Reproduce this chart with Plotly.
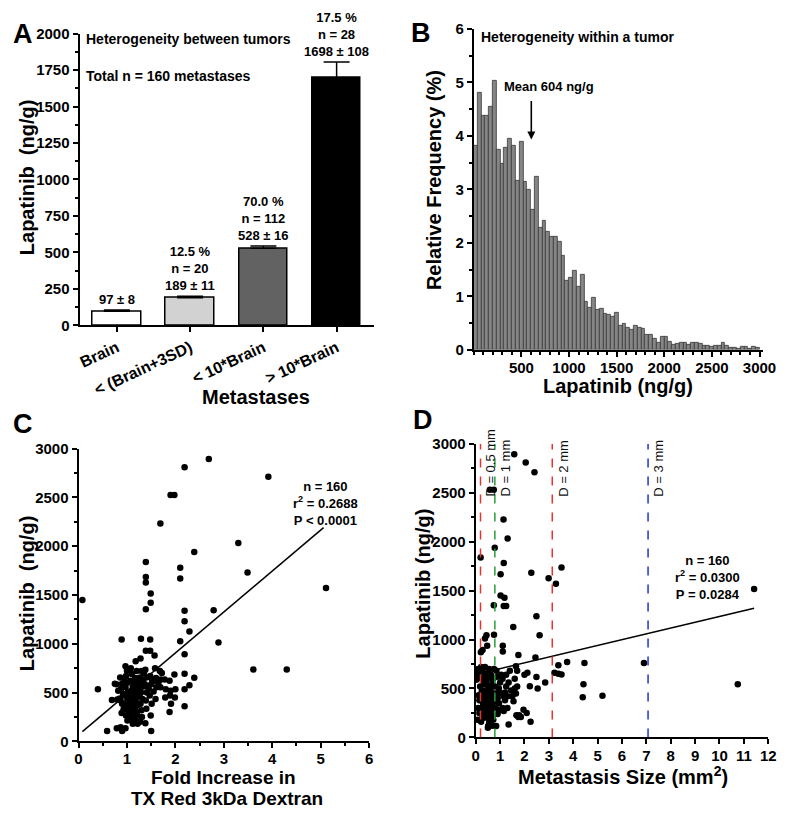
import plotly.graph_objects as go

# ---------------- DATA ----------------
# Panel A
a_categories = ["Brain", "&lt; (Brain+3SD)", "&lt; 10*Brain", "&gt; 10*Brain"]
a_means = [97, 189, 528, 1698]
a_sem = [8, 11, 16, 108]
a_pct = ["", "12.5 %", "70.0 %", "17.5 %"]
a_n = ["", "n = 20", "n = 112", "n = 28"]
a_fill = ["#ffffff", "#d2d2d2", "#626262", "#000000"]

# Panel B (relative frequency %, bins of 40 ng/g starting at 0)
b_bin_width = 40
b_freq = [3.82, 4.80, 4.38, 4.38, 4.55, 5.03, 3.74, 3.48, 3.77, 3.95,
          3.82, 3.16, 3.89, 3.14, 2.99, 2.61, 3.24, 2.28, 2.42, 2.20,
          2.12, 2.12, 2.02, 1.75, 1.29, 1.35, 1.48, 1.18, 1.41, 0.89,
          0.79, 0.98, 0.74, 0.76, 0.68, 0.65, 0.62, 0.70, 0.45, 0.48,
          0.41, 0.37, 0.45, 0.42, 0.39, 0.29, 0.29, 0.20, 0.13, 0.25,
          0.24, 0.16, 0.10, 0.12, 0.13, 0.13, 0.10, 0.13, 0.13, 0.12,
          0.07, 0.085, 0.05, 0.07, 0.07, 0.13, 0.085, 0.04, 0.035, 0.025,
          0.05, 0.065, 0.02, 0.065, 0.03]
b_mean = 604

# Panel C
c_fold = [0.08, 0.4, 0.59, 0.79, 0.87, 0.9, 0.97, 0.89, 1.29, 1.48, 1.39, 1.57, 1.48, 1.39, 1.39,
          1.39, 1.39, 1.49, 1.49, 1.69, 1.9, 1.98, 2.19, 2.69, 2.1, 2.1, 2.39, 2.19, 2.19, 2.29,
          2.1, 2.19, 2.19, 2.19, 2.19, 2.29, 2.39, 2.79, 2.89, 3.3, 3.49, 3.61, 4.3, 3.92, 5.11,
          0.69, 0.78, 0.8, 0.86, 0.9, 0.88, 0.92, 0.87, 0.9, 0.93, 0.89, 0.85,
          0.97, 1.0, 0.98, 1.01, 0.97, 1.02, 0.99, 1.0, 0.96, 1.03, 0.98, 1.01, 1.04,
          1.08, 1.1, 1.07, 1.12, 1.09, 1.11, 1.08, 1.1, 1.13, 1.07, 1.1, 1.12, 1.06, 1.14,
          1.18, 1.2, 1.17, 1.21, 1.19, 1.22, 1.18, 1.2, 1.17, 1.21, 1.19, 1.22, 1.24, 1.16,
          1.28, 1.3, 1.27, 1.31, 1.29, 1.32, 1.28, 1.3, 1.31, 1.27, 1.33, 1.26,
          1.38, 1.4, 1.37, 1.41, 1.39, 1.4, 1.38, 1.42,
          1.48, 1.5, 1.47, 1.51, 1.49, 1.5, 1.52,
          1.58, 1.6, 1.57, 1.61, 1.59,
          1.68, 1.7, 1.69, 1.72,
          1.78, 1.8, 1.79,
          1.88, 1.9, 1.89, 1.91, 1.88,
          1.98, 2.0, 1.99,
          1.05, 1.15, 1.25, 1.35, 0.95, 1.45, 1.12, 1.22, 0.82, 1.55, 1.65, 1.02, 1.32, 1.2, 0.75]
c_lapatinib = [1448, 535, 107, 134, 145, 107, 134, 1043, 1053, 930, 930, 880, 1043, 1354, 1628,
               1685, 1839, 1515, 1421, 2234, 2525, 2525, 2809, 2893, 1779, 1669, 1940, 1338, 1231, 1127,
               1027, 893, 692, 535, 361, 575, 652, 1344, 1013, 2033, 1732, 736, 736, 2711, 1572,
               425, 585, 430, 655, 590, 540, 485, 420, 385, 330, 290, 440,
               770, 725, 670, 600, 555, 505, 455, 400, 350, 300, 265, 215, 380,
               750, 690, 620, 560, 520, 470, 415, 370, 320, 270, 220, 180, 340, 440,
               820, 720, 650, 585, 520, 470, 420, 365, 315, 270, 215, 180, 540, 490,
               850, 720, 655, 590, 500, 435, 385, 320, 250, 200, 620, 460,
               735, 655, 585, 500, 420, 335, 185, 560,
               670, 585, 470, 385, 265, 105, 630,
               750, 650, 620, 555, 435,
               720, 635, 555, 700,
               635, 535, 450,
               620, 520, 470, 385, 300,
               685, 535, 450,
               480, 600, 380, 700, 620, 540, 250, 640, 520, 510, 600, 330, 560, 300, 590]
c_fit_x = [0.08, 5.06]
c_fit_y = [100, 2190]

# Panel D
d_size = [1.58, 2.05, 2.41, 0.58, 0.74, 1.14, 1.31, 0.78, 0.2, 1.15, 1.02, 2.28, 3.52, 2.99, 3.29,
          11.42, 1.02, 1.18, 1.25, 1.15, 0.74, 2.49, 1.54, 2.62, 0.75, 0.44, 0.38, 0.47, 0.28, 0.21,
          1.11, 1.11, 1.75, 2.45, 3.75, 4.46, 6.9, 10.75, 4.42, 4.39, 5.2, 3.39, 3.23, 3.39, 3.52,
          1.65, 2.85, 2.54, 2.49, 2.22, 2.12, 1.96, 2.09, 2.25, 1.78, 1.67, 1.35, 0.84, 0.51,
          0.02, 0.05, 0.1, 0.12, 0.15, 0.08, 0.18, 0.2, 0.15, 0.1, 0.12,
          0.22, 0.25, 0.28, 0.3, 0.25, 0.3, 0.35, 0.28, 0.33, 0.22, 0.38, 0.36, 0.3, 0.4, 0.25, 0.35, 0.38, 0.27,
          0.42, 0.45, 0.48, 0.5, 0.45, 0.52, 0.55, 0.58, 0.5, 0.45, 0.55, 0.6, 0.48, 0.55, 0.42, 0.58, 0.5, 0.6,
          0.62, 0.65, 0.7, 0.68, 0.72, 0.75, 0.65, 0.7, 0.78, 0.62, 0.75, 0.8, 0.72, 0.68,
          0.85, 0.9, 0.95, 0.82, 0.88, 0.95, 0.9, 1.0, 0.85, 0.98,
          1.05, 1.1, 1.15, 1.2, 1.25, 1.1, 1.2, 1.3, 1.35, 1.4, 1.05, 1.15, 1.25, 1.3, 1.45, 1.5, 1.55,
          1.6, 1.65, 1.7, 1.75, 1.85, 1.6, 1.7, 2.0,
          0.32, 0.4, 0.57, 0.18, 0.65]
d_lapatinib = [2893, 2810, 2710, 2530, 2530, 2227, 2033, 1937, 1837, 1783, 1667, 1683, 1737, 1627, 1570,
               1517, 1450, 1427, 1343, 1343, 1350, 1237, 1127, 1043, 1050, 1043, 1010, 937, 893, 870,
               937, 877, 843, 817, 770, 760, 760, 543, 543, 410, 427, 737, 660, 650, 643,
               727, 560, 500, 617, 523, 660, 283, 250, 160, 227, 227, 133, 117, 117,
               590, 640, 700, 430, 380, 180, 520, 610, 250, 300, 660,
               720, 470, 410, 350, 300, 560, 620, 680, 200, 160, 450, 390, 480, 540, 600, 280, 720, 230,
               350, 400, 450, 300, 250, 500, 380, 420, 600, 650, 700, 330, 200, 150, 560, 520, 100, 250,
               470, 400, 350, 550, 600, 450, 280, 220, 380, 640, 700, 520, 180, 120,
               450, 400, 500, 300, 620, 350, 240, 560, 680, 280,
               640, 600, 420, 380, 520, 300, 460, 420, 560, 680, 450, 270, 640, 300, 480, 420, 370,
               600, 450, 520, 210, 210, 500, 680, 640,
               420, 320, 470, 400, 520]
d_fit_x = [0.1, 11.42]
d_fit_y = [649, 1320]
d_diam_labels = ["D = 0.5 mm", "D = 1 mm", "D = 2 mm", "D = 3 mm"]
d_diam_area = [0.196, 0.785, 3.14, 7.07]
d_diam_colors = ["#e8322f", "#2e9a3c", "#e8322f", "#2433c8"]

# ---------------- FIGURE ----------------
# The page body keeps its default 8px margin, so the figure is 16px smaller
# than the 800x820 window and page coordinates are offset by 8px.
PAGE_MARGIN = 8
W, H = 800 - 2 * PAGE_MARGIN, 820 - 2 * PAGE_MARGIN
FONT = "Liberation Sans, Arial, sans-serif"


def px(x):
    return (x - PAGE_MARGIN) / W


def py(y):
    return 1 - (y - PAGE_MARGIN) / H


fig = go.Figure()

# Panel A bars
fig.add_trace(go.Bar(
    x=list(range(len(a_means))), y=a_means, width=0.66,
    marker=dict(color=a_fill, line=dict(color="black", width=1.5)),
    error_y=dict(type="data", array=a_sem, arrayminus=[0] * len(a_sem), symmetric=False,
                 color="black", thickness=1.5, width=13),
    xaxis="x", yaxis="y", showlegend=False))

# Panel B histogram
b_centers = [b_bin_width * i + b_bin_width / 2 for i in range(len(b_freq))]
fig.add_trace(go.Bar(
    x=b_centers, y=b_freq, width=b_bin_width,
    marker=dict(color="#858585", line=dict(color="#3a3a3a", width=0.8)),
    xaxis="x2", yaxis="y2", showlegend=False))

# Panel C scatter + fit
fig.add_trace(go.Scatter(x=c_fold, y=c_lapatinib, mode="markers",
                         marker=dict(color="black", size=6.5),
                         xaxis="x3", yaxis="y3", showlegend=False))
fig.add_trace(go.Scatter(x=c_fit_x, y=c_fit_y, mode="lines",
                         line=dict(color="black", width=1.5),
                         xaxis="x3", yaxis="y3", showlegend=False))

# Panel D scatter + fit
fig.add_trace(go.Scatter(x=d_size, y=d_lapatinib, mode="markers",
                         marker=dict(color="black", size=6.5),
                         xaxis="x4", yaxis="y4", showlegend=False))
fig.add_trace(go.Scatter(x=d_fit_x, y=d_fit_y, mode="lines",
                         line=dict(color="black", width=1.5),
                         xaxis="x4", yaxis="y4", showlegend=False))

tickfont = dict(family=FONT, size=15, color="black", weight="bold")
axis_common = dict(showline=True, linecolor="black", linewidth=2, ticks="outside",
                   ticklen=5, tickwidth=2, tickcolor="black", showgrid=False,
                   zeroline=False, tickfont=tickfont)
minor_common = dict(ticks="outside", ticklen=3, tickwidth=1.5, tickcolor="black", showgrid=False)

fig.update_layout(
    width=W, height=H, margin=dict(l=0, r=0, t=0, b=0),
    paper_bgcolor="white", plot_bgcolor="white",
    font=dict(family=FONT, color="black"),
    bargap=0,
    xaxis=dict(domain=[px(77), px(378)], anchor="y", range=[-0.51, 3.51],
               tickvals=list(range(len(a_categories))), ticktext=a_categories,
               tickangle=-25, **{k: v for k, v in axis_common.items() if k != "tickfont"},
               tickfont=dict(family=FONT, size=16, color="black", weight="bold")),
    yaxis=dict(domain=[py(323), py(25)], anchor="x", range=[0, 2000], dtick=250,
               minor=dict(dtick=125, **minor_common), **axis_common),
    xaxis2=dict(domain=[px(480), px(776)], anchor="y2", range=[0, 3040],
                tickvals=[500, 1000, 1500, 2000, 2500, 3000], ticklabelstandoff=-2,
                minor=dict(dtick=100, **minor_common), **axis_common),
    yaxis2=dict(domain=[py(348), py(20)], anchor="x2", range=[0, 6], dtick=1,
                minor=dict(dtick=0.5, **minor_common), **axis_common),
    xaxis3=dict(domain=[px(76), px(373)], anchor="y3", range=[0, 6], dtick=1,
                ticklabelstandoff=-2,
                minor=dict(dtick=0.5, **minor_common), **axis_common),
    yaxis3=dict(domain=[py(748), py(449)], anchor="x3", range=[0, 3000], dtick=500,
                minor=dict(dtick=250, **minor_common), **axis_common),
    xaxis4=dict(domain=[px(482), px(781)], anchor="y4", range=[0, 12], dtick=1,
                ticklabelstandoff=-1, **axis_common),
    yaxis4=dict(domain=[py(744), py(444)], anchor="x4", range=[0, 3000], dtick=500,
                minor=dict(dtick=250, **minor_common), **axis_common),
)

ann = []


def paper_text(text, x, y, size=14, bold=True, xanchor="center", yanchor="middle", angle=0):
    ann.append(dict(text=text, x=px(x), y=py(y), xref="paper", yref="paper",
                    xanchor=xanchor, yanchor=yanchor, showarrow=False, textangle=angle,
                    font=dict(family=FONT, size=size, color="black",
                              weight="bold" if bold else "normal")))


# Panel letters
paper_text("A", 19, 25, size=27)
paper_text("B", 426, 24, size=27)
paper_text("C", 19, 424, size=27)
paper_text("D", 428, 420, size=27)

# Axis titles
paper_text("Lapatinib  (ng/g)", 23, 172, size=20, angle=-90)
paper_text("Metastases", 257, 396, size=20)
paper_text("Relative Frequency (%)", 440, 175, size=20, angle=-90)
paper_text("Lapatinib (ng/g)", 627, 385, size=20)
paper_text("Lapatinib  (ng/g)", 23, 597, size=20, angle=-90)
paper_text("Fold Increase in", 224, 785, size=19)
paper_text("TX Red 3kDa Dextran", 228, 806, size=19)
paper_text("Lapatinib (ng/g)", 428, 587, size=20, angle=-90)
paper_text("Metastasis Size (mm<sup>2</sup>)", 633, 783, size=20)

# Panel A texts
paper_text("Heterogeneity between tumors", 82, 30, size=14, xanchor="left")
paper_text("Total n = 160 metastases", 82, 68, size=14, xanchor="left")
for i, (m, s) in enumerate(zip(a_means, a_sem)):
    lines = [t for t in (a_pct[i], a_n[i]) if t] + [f"{m} ± {s}"]
    ann.append(dict(text="<br>".join(lines), x=i, y=m + s, xref="x", yref="y",
                    xanchor="center", yanchor="bottom", yshift=1, showarrow=False,
                    font=dict(family=FONT, size=13, color="black", weight="bold")))

# Panel B texts
paper_text("Heterogeneity within a tumor", 485, 28, size=14, xanchor="left")
paper_text("Mean 604 ng/g", 557, 79, size=13)
ann.append(dict(text="", x=b_mean, y=3.93, xref="x2", yref="y2",
                ax=b_mean, ay=4.68, axref="x2", ayref="y2", showarrow=True,
                arrowhead=2, arrowsize=1, arrowwidth=1.6, arrowcolor="black"))

# Panel C stats
paper_text("n = 160<br>r<sup>2</sup> = 0.2688<br>P &lt; 0.0001", 293, 505, size=13, xanchor="left")

# Panel D stats and diameter lines
paper_text("n = 160<br>r<sup>2</sup> = 0.0300<br>P = 0.0284", 684, 581, size=13, xanchor="left")

shapes = []
for xv, col, lab in zip(d_diam_area, d_diam_colors, d_diam_labels):
    shapes.append(dict(type="line", xref="x4", yref="y4", x0=xv, x1=xv, y0=0, y1=3000,
                       line=dict(color=col, width=1.5, dash="dash")))
    ann.append(dict(text=lab, x=xv, y=2440, xref="x4", yref="y4", xanchor="left",
                    yanchor="bottom", xshift=1, textangle=-90, showarrow=False,
                    font=dict(family=FONT, size=13, color="#111111")))

fig.update_layout(annotations=ann, shapes=shapes)

fig.write_html(
    "out.html",
    config={"displayModeBar": False, "responsive": False},
    post_script="document.body.style.overflow='hidden';",
)
